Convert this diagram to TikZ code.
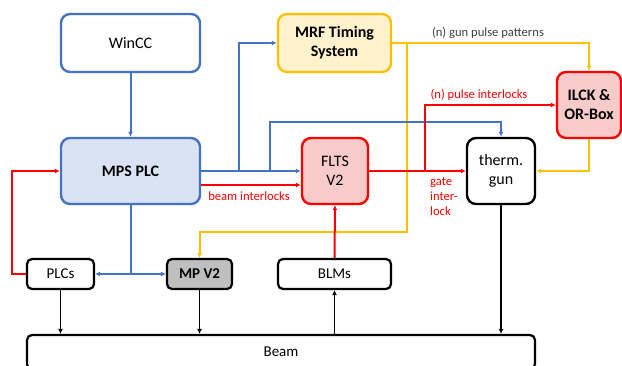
\documentclass[tikz,border=0pt]{standalone}
\usepackage{fontspec}
\setmainfont{Carlito}
\usetikzlibrary{arrows.meta}
\definecolor{cblue}{HTML}{4472C4}
\definecolor{cred}{HTML}{FF0000}
\definecolor{cyel}{HTML}{FFC000}
\definecolor{fblue}{HTML}{DAE3F3}
\definecolor{fyel}{HTML}{FFF2CC}
\definecolor{fred}{HTML}{F8CBCB}
\definecolor{fgray}{HTML}{BFBFBF}
\definecolor{tgray}{HTML}{404040}
\begin{document}
\begin{tikzpicture}[x=1pt,y=-1pt,
  box/.style={rectangle, rounded corners=9pt, line width=2.4pt, align=center,
    font=\fontsize{16}{19}\selectfont, inner sep=0pt},
  sbox/.style={rectangle, rounded corners=5pt, line width=2.2pt, align=center,
    font=\fontsize{15}{18}\selectfont, inner sep=0pt},
  bl/.style={draw=cblue, line width=2pt, -{Latex[length=5pt,width=5pt]}},
  rd/.style={draw=cred, line width=2pt, -{Latex[length=5pt,width=5pt]}},
  yl/.style={draw=cyel, line width=2pt, -{Latex[length=5pt,width=5pt]}},
  bk/.style={draw=black, line width=1.4pt, -{Latex[length=5pt,width=5pt]}},
  lbl/.style={font=\fontsize{12.6}{15}\selectfont, inner sep=0pt}
]
\useasboundingbox (0,0) rectangle (622,365);
\clip (0,0) rectangle (622,365);

% nodes
\node[box, draw=cblue, fill=white, minimum width=139pt, minimum height=58pt] (wincc) at (130.5,43) {WinCC};
\node[box, draw=cblue, fill=fblue, minimum width=139pt, minimum height=66pt, font=\fontsize{16}{19}\selectfont\bfseries] (mps) at (130.5,171) {MPS PLC};
\node[box, draw=cyel, fill=fyel, minimum width=113pt, minimum height=58pt, font=\fontsize{16}{19}\selectfont\bfseries] (mrf) at (334.5,43) {MRF Timing\\System};
\node[box, draw=cred, fill=fred, minimum width=66pt, minimum height=66pt] (flts) at (335,171) {FLTS\\V2};
\node[box, draw=black, fill=white, minimum width=68pt, minimum height=66pt] (gun) at (501,171) {therm.\\gun};
\node[box, draw=cred, fill=fred, minimum width=64pt, minimum height=66pt, font=\fontsize{16}{19}\selectfont\bfseries] (ilck) at (589,105) {ILCK \&\\OR-Box};
\node[sbox, draw=black, fill=white, minimum width=67pt, minimum height=30pt] (plcs) at (60.5,274) {PLCs};
\node[sbox, draw=black, fill=fgray, minimum width=65pt, minimum height=30pt, font=\fontsize{15}{18}\selectfont\bfseries] (mp) at (199.5,274) {MP V2};
\node[sbox, draw=black, fill=white, minimum width=113pt, minimum height=30pt] (blms) at (334.5,274) {BLMs};
\node[sbox, draw=black, fill=white, minimum width=508pt, minimum height=34pt] (beam) at (281,352) {Beam};

% yellow connectors
\coordinate (y1) at (407,43);
\draw[yl] (mrf.east) -| (ilck.north);
\draw[yl] (y1) -- (407,232) -| (mp.north);
\draw[yl] (ilck.south) |- (gun.east);
\node[lbl, text=tgray] (gpp) at (488,33) {(n) gun pulse patterns};

% blue connectors
\draw[bl] (wincc.south) -- (mps.north);
\draw[bl] (mps.east) -- (flts.west);
\coordinate (b1) at (239,171);
\coordinate (b2) at (270,171);
\draw[bl] (b1) |- (mrf.west);
\draw[bl] (b2) -- (270,122) -| (gun.north);
\coordinate (b3) at (130.5,274);
\draw[draw=cblue, line width=2pt] (mps.south) -- (b3);
\draw[draw=cblue, line width=2pt, {Latex[length=5pt,width=5pt]}-{Latex[length=5pt,width=5pt]}] (plcs.east) -- (mp.west);

% red connectors
\draw[rd] ([yshift=-14pt]mps.east) -- ([yshift=-14pt]flts.west);
\node[lbl, text=cred] (bi) at (249,196) {beam interlocks};
\draw[rd] (flts.east) -- (gun.west);
\coordinate (r1) at (425,171);
\draw[rd] (r1) |- (ilck.west);
\node[lbl, text=cred] (pi) at (479,95) {(n) pulse interlocks};
\node[lbl, text=cred, align=left, anchor=north west] (gi) at (430,177) {gate\\inter-\\lock};
\draw[rd] (plcs.west) -- (12,274) |- (mps.west);
\draw[rd] (blms.north) -- (flts.south);

% black connectors
\draw[bk] (plcs.south) -- (plcs.south |- beam.north);
\draw[bk] (mp.south) -- (mp.south |- beam.north);
\draw[bk] (blms.south |- beam.north) -- (blms.south);
\draw[bk] (gun.south) -- (gun.south |- beam.north);
\end{tikzpicture}
\end{document}
